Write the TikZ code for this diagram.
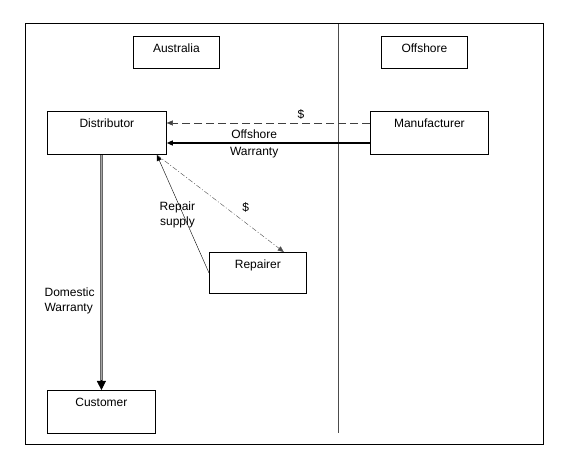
\documentclass[tikz,border=0pt]{standalone}
\usepackage{fontspec}
\setmainfont{Liberation Sans}
\usetikzlibrary{arrows.meta}

\tikzset{
  box/.style={draw, line width=0.8pt, anchor=north west, inner sep=0pt, minimum width=#1, minimum height=43pt},
  tag/.style={anchor=north, yshift=-4.7pt},
  tip/.style={-{Triangle[length=6pt, width=5pt]}},
}

\begin{document}
\begin{tikzpicture}[x=1pt, y=-1pt, font=\fontsize{12}{15}\selectfont]
    \useasboundingbox (0, 0) rectangle (571, 470);
    \draw [line width=1pt] (25, 24) rectangle (543, 445);
    \draw [black!70] (338, 24) -- (338, 433);

    \node [box=86pt, minimum height=32pt, label={[tag]north:Australia}] (aus) at (133, 36) {};
    \node [box=86pt, minimum height=32pt, label={[tag]north:Offshore}] (off) at (381, 36) {};
    \node [box=119pt, label={[tag]north:Distributor}] (dist) at (47, 111) {};
    \node [box=118pt, label={[tag]north:Manufacturer}] (man) at (370, 111) {};
    \node [box=97pt, minimum height=41pt, label={[tag]north:Repairer}] (rep) at (209, 252) {};
    \node [box=108pt, label={[tag]north:Customer}] (cust) at (47, 390) {};

    \coordinate (dtip) at ([xshift=-10pt]dist.south east);

    \draw [tip, black!75, dash pattern=on 8pt off 4pt]
      ([yshift=-12pt]man.north west) -- ([yshift=-12pt]dist.north east)
      node [pos=0.34, above, black] {\$};
    \draw [tip, line width=1.3pt]
      ([yshift=-32pt]man.north west) -- ([yshift=-32pt]dist.north east)
      node [pos=0.57, above] {Offshore}
      node [pos=0.57, below] {Warranty};

    \draw [tip] (rep.west) -- (dtip)
      node [pos=0.49, xshift=-6pt, align=center] {Repair\\supply};
    \draw [tip, black!70, dash pattern=on 5pt off 2pt on 1pt off 2pt]
      (dtip) -- ([xshift=-23pt]rep.north east)
      node [pos=0.7, above=7pt, black] {\$};

    \draw [draw=black!60, double=black!35, line width=0.9pt, double distance=1.6pt, shorten >=9pt]
      (cust.north |- dist.south) -- (cust.north)
      node [pos=0.62, left=3pt, align=left] {Domestic\\Warranty};
    \draw [-{Triangle[length=9pt, width=9pt]}, line width=0.5pt]
      ([yshift=10pt]cust.north) -- (cust.north);
\end{tikzpicture}
\end{document}
